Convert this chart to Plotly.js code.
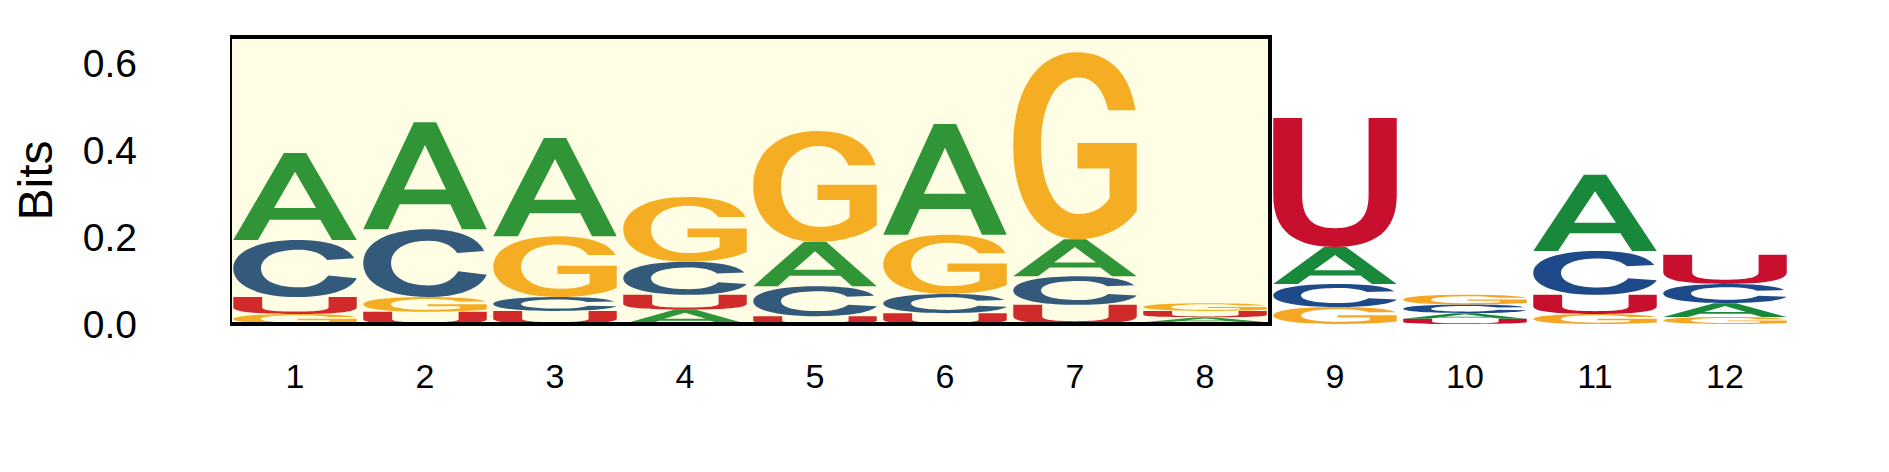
<!DOCTYPE html>
<html>
<head>
<meta charset="utf-8">
<script src="https://cdn.plot.ly/plotly-3.0.1.min.js"></script>
<style>
  html, body { margin: 0; padding: 0; background: #ffffff; }
  #logo { width: 1889px; height: 472px; }
</style>
</head>
<body>
<div id="logo"></div>
<script>
// positions along the motif
var positions = [1, 2, 3, 4, 5, 6, 7, 8, 9, 10, 11, 12];
var tickLabels = ['1', '2', '3', '4', '5', '6', '7', '8', '9', '10', '11', '12'];

// information (bits) carried by each base at each position
var bitsA = [0.200, 0.246, 0.226, 0.033, 0.102, 0.255, 0.085, 0.011, 0.085, 0.013, 0.175, 0.032];
var bitsC = [0.131, 0.156, 0.032, 0.076, 0.069, 0.044, 0.066, 0.004, 0.053, 0.020, 0.101, 0.044];
var bitsG = [0.023, 0.034, 0.140, 0.149, 0.255, 0.136, 0.430, 0.018, 0.039, 0.022, 0.023, 0.016];
var bitsU = [0.039, 0.028, 0.030, 0.034, 0.018, 0.025, 0.044, 0.015, 0.297, 0.012, 0.044, 0.067];

// highlighted window
var highlightStart = 1;
var highlightEnd = 8;

var yTicks = [0, 0.2, 0.4, 0.6];

// colours: inside the highlight / outside
var colorIn = { A: '#2f9536', C: '#345a7b', G: '#f5ae23', U: '#d12a2b' };
var colorOut = { A: '#18893a', C: '#1e4a8a', G: '#f5a724', U: '#c8102e' };

// glyph outlines in a unit box (u right, v up)
var glyphs = {
  A: [['M', 0, 0], ['L', 0.41, 1], ['L', 0.59, 1], ['L', 1, 0], ['L', 0.8, 0],
      ['L', 0.705, 0.233], ['L', 0.295, 0.233], ['L', 0.2, 0], ['Z'],
      ['M', 0.33, 0.37], ['L', 0.67, 0.37], ['L', 0.5, 0.786], ['Z']],
  C: [['M', 0.98, 0.68],
      ['C', 0.92, 0.9, 0.75, 1, 0.52, 1],
      ['C', 0.2, 1, 0, 0.8, 0, 0.5],
      ['C', 0, 0.2, 0.2, 0, 0.52, 0],
      ['C', 0.77, 0, 0.95, 0.12, 1, 0.33],
      ['L', 0.77, 0.38],
      ['C', 0.72, 0.24, 0.64, 0.17, 0.53, 0.17],
      ['C', 0.34, 0.17, 0.225, 0.3, 0.225, 0.5],
      ['C', 0.225, 0.7, 0.34, 0.83, 0.53, 0.83],
      ['C', 0.64, 0.83, 0.72, 0.76, 0.76, 0.65], ['Z']],
  G: [['M', 0.99, 0.69],
      ['C', 0.94, 0.9, 0.76, 1, 0.52, 1],
      ['C', 0.2, 1, 0, 0.8, 0, 0.5],
      ['C', 0, 0.2, 0.2, 0, 0.52, 0],
      ['C', 0.72, 0, 0.9, 0.06, 1, 0.15],
      ['L', 1, 0.515], ['L', 0.52, 0.515], ['L', 0.52, 0.378],
      ['L', 0.78, 0.378], ['L', 0.78, 0.22],
      ['C', 0.72, 0.16, 0.63, 0.135, 0.53, 0.135],
      ['C', 0.34, 0.135, 0.225, 0.29, 0.225, 0.5],
      ['C', 0.225, 0.71, 0.34, 0.865, 0.53, 0.865],
      ['C', 0.65, 0.865, 0.73, 0.8, 0.77, 0.69], ['Z']],
  U: [['M', 0, 1], ['L', 0.234, 1], ['L', 0.234, 0.4],
      ['C', 0.234, 0.22, 0.32, 0.145, 0.5, 0.145],
      ['C', 0.68, 0.145, 0.772, 0.22, 0.772, 0.4],
      ['L', 0.772, 1], ['L', 1, 1], ['L', 1, 0.4],
      ['C', 1, 0.12, 0.82, 0, 0.5, 0],
      ['C', 0.18, 0, 0, 0.12, 0, 0.4], ['Z']]
};

var letterWidth = 0.95;

function glyphPath(g, x0, w, y0, h) {
  var out = '';
  g.forEach(function (cmd) {
    out += cmd[0];
    var pts = [];
    for (var i = 1; i < cmd.length; i += 2) {
      pts.push((x0 + cmd[i] * w).toFixed(5) + ',' + (y0 + cmd[i + 1] * h).toFixed(5));
    }
    out += pts.join(' ') + ' ';
  });
  return out;
}

var shapes = [];

// highlight background
shapes.push({
  type: 'rect', xref: 'x', yref: 'paper', layer: 'below',
  x0: highlightStart - 0.5, x1: highlightEnd + 0.5, y0: 0, y1: 1,
  fillcolor: '#fffee5', line: { width: 0 }
});

// stacked letters, smallest at the bottom
positions.forEach(function (p, i) {
  var stack = [
    { base: 'A', h: bitsA[i] },
    { base: 'C', h: bitsC[i] },
    { base: 'G', h: bitsG[i] },
    { base: 'U', h: bitsU[i] }
  ].sort(function (a, b) { return a.h - b.h; });
  var inside = p >= highlightStart && p <= highlightEnd;
  var y = 0;
  stack.forEach(function (s) {
    shapes.push({
      type: 'path', xref: 'x', yref: 'y', layer: 'above',
      path: glyphPath(glyphs[s.base], p - letterWidth / 2, letterWidth, y, s.h),
      fillcolor: inside ? colorIn[s.base] : colorOut[s.base],
      fillrule: 'evenodd',
      line: { width: 0 }
    });
    y += s.h;
  });
});

// highlight frame
shapes.push({
  type: 'rect', xref: 'x', yref: 'paper', layer: 'above',
  x0: highlightStart - 0.5, x1: highlightEnd + 0.5, y0: 0, y1: 1,
  fillcolor: 'rgba(0,0,0,0)', line: { color: '#000000', width: 4 }
});

var font = 'Liberation Sans, Arial, sans-serif';

var layout = {
  width: 1889,
  height: 472,
  margin: { l: 230, r: 99, t: 37, b: 148 },
  paper_bgcolor: '#ffffff',
  plot_bgcolor: '#ffffff',
  showlegend: false,
  font: { family: font, color: '#000000' },
  xaxis: {
    range: [0.5, 12.5],
    tickmode: 'array',
    tickvals: positions,
    ticktext: tickLabels,
    ticks: '',
    ticklabelstandoff: 29,
    tickfont: { size: 34, family: font },
    showgrid: false, zeroline: false, showline: false, fixedrange: true
  },
  yaxis: {
    range: [0, 0.66],
    tickmode: 'array',
    tickvals: yTicks,
    ticktext: yTicks.map(function (v) { return v.toFixed(1); }),
    ticks: '',
    ticklabelstandoff: 92,
    tickfont: { size: 39, family: font },
    title: { text: 'Bits', font: { size: 48, family: font }, standoff: 14 },
    showgrid: false, zeroline: false, showline: false, fixedrange: true
  },
  shapes: shapes
};

Plotly.newPlot('logo', [], layout, { displayModeBar: false, staticPlot: true });
</script>
</body>
</html>
